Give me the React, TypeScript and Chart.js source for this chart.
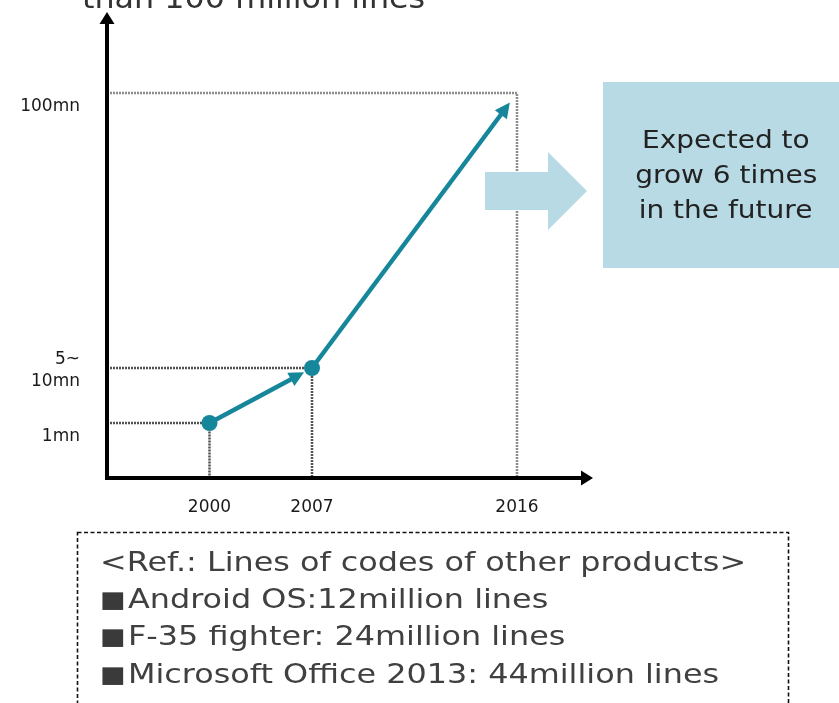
import React, { useEffect, useRef } from 'react';
import { Chart, registerables } from 'chart.js';

Chart.register(...registerables);

// ---- data ----
const xLabels = ['', '2000', '2007', '', '2016'];
const yLabels = ['100mn', '', '', '', '', '5~\n10mn', '1mn', ''];
const years = ['2000', '2007', '2016'];
const levels = ['1mn', '5~\n10mn', '100mn'];
const markerRadius = [8, 8, 0];

const titleText = 'than 100 million lines';
const calloutLines = ['Expected to', 'grow 6 times', 'in the future'];
const refTitle = '<Ref.: Lines of codes of other products>';
const refItems = [
  'Android OS:12million lines',
  'F-35 fighter: 24million lines',
  'Microsoft Office 2013: 44million lines',
];

const TEAL = '#16879b';
const BLUE = '#b7dae5';

const decorPlugin = {
  id: 'decor',
  beforeDatasetsDraw(chart: any) {
    const { ctx, chartArea } = chart;
    const meta = chart.getDatasetMeta(0);
    const pts = meta.data;
    ctx.save();
    // dotted guide lines
    pts.forEach((p: any, i: number) => {
      ctx.strokeStyle = i === 2 ? 'rgba(120,120,120,0.85)' : 'rgba(50,50,50,0.85)';
      ctx.lineWidth = 2.5;
      ctx.setLineDash([2, 1]);
      ctx.beginPath();
      ctx.moveTo(chartArea.left, p.y);
      ctx.lineTo(p.x, p.y);
      ctx.lineTo(p.x, chartArea.bottom);
      ctx.stroke();
    });
    ctx.setLineDash([]);
    // axes with arrows
    ctx.strokeStyle = '#000';
    ctx.fillStyle = '#000';
    ctx.lineWidth = 4;
    const ax = chartArea.left;
    const ay = chartArea.bottom;
    const yTip = chartArea.top - 81;
    const xTip = chartArea.right + 76;
    ctx.beginPath();
    ctx.moveTo(ax, ay + 2);
    ctx.lineTo(ax, yTip + 10);
    ctx.moveTo(ax - 2, ay);
    ctx.lineTo(xTip - 10, ay);
    ctx.stroke();
    ctx.beginPath();
    ctx.moveTo(ax, yTip);
    ctx.lineTo(ax - 7.5, yTip + 12);
    ctx.lineTo(ax + 7.5, yTip + 12);
    ctx.closePath();
    ctx.fill();
    ctx.beginPath();
    ctx.moveTo(xTip, ay);
    ctx.lineTo(xTip - 12, ay - 7.5);
    ctx.lineTo(xTip - 12, ay + 7.5);
    ctx.closePath();
    ctx.fill();
    // teal segments with arrowheads
    ctx.strokeStyle = TEAL;
    ctx.fillStyle = TEAL;
    ctx.lineWidth = 4.5;
    for (let i = 0; i < pts.length - 1; i++) {
      const a = pts[i];
      const b = pts[i + 1];
      const dx = b.x - a.x;
      const dy = b.y - a.y;
      const len = Math.hypot(dx, dy);
      const ux = dx / len;
      const uy = dy / len;
      const shorten = i === pts.length - 2 ? 12 : markerRadius[i + 1] + 1;
      const tx = b.x - ux * shorten;
      const ty = b.y - uy * shorten;
      const head = 15;
      const hw = 7.5;
      ctx.beginPath();
      ctx.moveTo(a.x, a.y);
      ctx.lineTo(tx - ux * head * 0.8, ty - uy * head * 0.8);
      ctx.stroke();
      ctx.beginPath();
      ctx.moveTo(tx, ty);
      ctx.lineTo(tx - ux * head - uy * hw, ty - uy * head + ux * hw);
      ctx.lineTo(tx - ux * head + uy * hw, ty - uy * head - ux * hw);
      ctx.closePath();
      ctx.fill();
    }
    ctx.restore();
  },
};

export default function App() {
  const canvasRef = useRef<HTMLCanvasElement | null>(null);

  useEffect(() => {
    if (!canvasRef.current) return;
    const chart = new Chart(canvasRef.current, {
      type: 'line',
      data: {
        datasets: [
          {
            data: years.map((y, i) => ({ x: y, y: levels[i] })) as any,
            showLine: false,
            pointRadius: markerRadius,
            pointHoverRadius: markerRadius,
            pointBackgroundColor: TEAL,
            pointBorderWidth: 0,
            borderColor: TEAL,
          },
        ],
      },
      options: {
        animation: false,
        responsive: false,
        devicePixelRatio: 1,
        events: [],
        layout: { padding: { left: 0, top: 93, right: 322, bottom: 185 } },
        plugins: { legend: { display: false }, tooltip: { enabled: false }, title: { display: false } },
        scales: {
          x: {
            type: 'category',
            labels: xLabels,
            offset: false,
            grid: { display: false, drawTicks: false },
            border: { display: false },
            ticks: {
              autoSkip: false,
              maxRotation: 0,
              padding: 19,
              color: '#1a1a1a',
              font: { family: 'DejaVu Sans', size: 17 },
            },
            afterFit: (s: any) => {
              s.height = 40;
            },
          },
          y: {
            type: 'category',
            labels: yLabels,
            offset: false,
            grid: { display: false, drawTicks: false },
            border: { display: false },
            ticks: {
              autoSkip: false,
              padding: 27,
              labelOffset: 14,
              color: '#1a1a1a',
              font: { family: 'DejaVu Sans', size: 17, lineHeight: 1.3 },
              callback: function (this: any, v: any) {
                const l = this.getLabelForValue(v);
                return l.includes('\n') ? l.split('\n').concat('') : l;
              },
            },
            afterFit: (s: any) => {
              s.width = 107;
            },
          },
        },
      } as any,
      plugins: [decorPlugin],
    });
    return () => chart.destroy();
  }, []);

  return (
    <div style={{ position: 'absolute', left: 0, top: 0, width: 839, height: 703, overflow: 'hidden', background: '#fff' }}>
      <canvas ref={canvasRef} width={839} height={703} style={{ position: 'absolute', left: 0, top: 0 }} />
      <div
        style={{
          position: 'absolute',
          left: 82,
          top: -17,
          fontFamily: 'DejaVu Sans',
          fontSize: 30,
          lineHeight: '30px',
          color: '#333',
          whiteSpace: 'nowrap',
          transform: 'scaleX(1.06)',
          transformOrigin: 'left top',
        }}
      >
        {titleText}
      </div>
      <svg width={839} height={703} style={{ position: 'absolute', left: 0, top: 0 }}>
        <polygon points="485,172 548,172 548,152 587,191 548,230 548,210 485,210" fill={BLUE} />
        <rect x={77.5} y={532.5} width={711} height={220} fill="none" stroke="#111" strokeWidth={1.6} strokeDasharray="4 2.5" />
      </svg>
      <div
        style={{
          position: 'absolute',
          left: 603,
          top: 82,
          width: 236,
          height: 186,
          background: BLUE,
          display: 'flex',
          flexDirection: 'column',
          alignItems: 'center',
          justifyContent: 'center',
          paddingLeft: 10,
          paddingBottom: 2,
          boxSizing: 'border-box',
        }}
      >
        {calloutLines.map((l) => (
          <div
            key={l}
            style={{
              fontFamily: 'DejaVu Sans',
              fontSize: 25,
              lineHeight: '35px',
              color: '#222',
              whiteSpace: 'nowrap',
              transform: 'scaleX(1.12)',
            }}
          >
            {l}
          </div>
        ))}
      </div>
      <div
        style={{
          position: 'absolute',
          left: 100,
          top: 544,
          fontFamily: 'DejaVu Sans',
          fontSize: 27,
          lineHeight: '36.7px',
          color: '#404040',
          whiteSpace: 'nowrap',
          transform: 'scaleX(1.18)',
          transformOrigin: 'left top',
        }}
      >
        <div>{refTitle}</div>
        {refItems.map((t) => (
          <div key={t}>
            <span style={{ fontSize: 23, color: '#3a3a3a', marginRight: 2, position: 'relative', top: -1 }}>■</span>
            {t}
          </div>
        ))}
      </div>
    </div>
  );
}
